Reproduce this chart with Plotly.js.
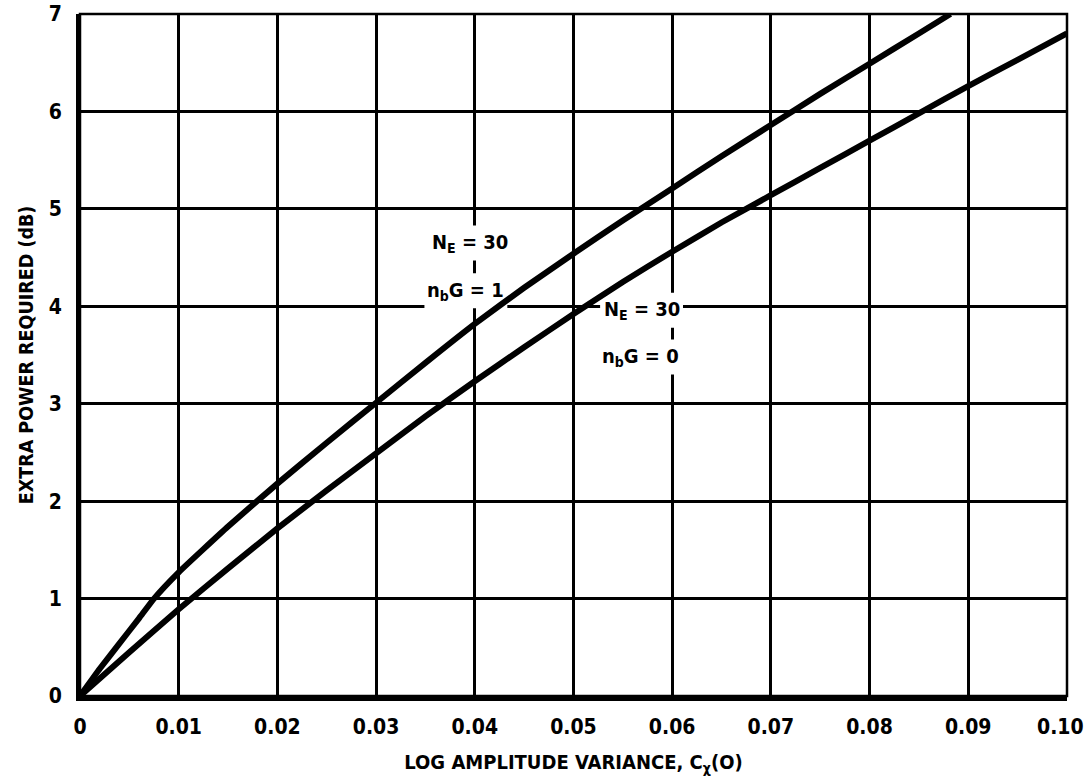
<!DOCTYPE html>
<html>
<head>
<meta charset="utf-8">
<script src="https://cdn.plot.ly/plotly-3.0.1.min.js"></script>
<style>
  html, body { margin: 0; padding: 0; background: #fff; }
  #chart { width: 1085px; height: 784px; }
</style>
</head>
<body>
<div id="chart"></div>
<script>
// Extra power required vs. log amplitude variance, two receiver settings
const varianceA = [0, 0.002, 0.004, 0.006, 0.0075, 0.01, 0.015, 0.02, 0.025, 0.03, 0.035, 0.04,
                   0.045, 0.05, 0.055, 0.06, 0.065, 0.07, 0.075, 0.08, 0.085, 0.0882];
const powerA    = [0, 0.28, 0.54, 0.80, 1.00, 1.27, 1.74, 2.18, 2.60, 3.01, 3.42, 3.82,
                   4.19, 4.54, 4.88, 5.21, 5.54, 5.86, 6.18, 6.49, 6.80, 7.00];   // N_E = 30, n_bG = 1

const varianceB = [0, 0.005, 0.01, 0.015, 0.02, 0.025, 0.03, 0.035, 0.04, 0.045, 0.05,
                   0.055, 0.06, 0.065, 0.07, 0.075, 0.08, 0.085, 0.09, 0.095, 0.10];
const powerB    = [0, 0.45, 0.89, 1.31, 1.72, 2.11, 2.49, 2.87, 3.23, 3.58, 3.92,
                   4.25, 4.56, 4.86, 5.14, 5.42, 5.70, 5.98, 6.26, 6.53, 6.80];   // N_E = 30, n_bG = 0

const xTickVals = [0, 0.01, 0.02, 0.03, 0.04, 0.05, 0.06, 0.07, 0.08, 0.09, 0.10];
const xTickText = ['0', '0.01', '0.02', '0.03', '0.04', '0.05', '0.06', '0.07', '0.08', '0.09', '0.10'];
const yTickVals = [0, 1, 2, 3, 4, 5, 6, 7];
const yTickText = ['0', '1', '2', '3', '4', '5', '6', '7'];

const curveLabels = [
  { x: 0.0395, y: 4.65, text: 'N<sub>E</sub> = 30' },
  { x: 0.0391, y: 4.16, text: 'n<sub>b</sub>G = 1' },
  { x: 0.0569, y: 3.96, text: 'N<sub>E</sub> = 30' },
  { x: 0.0568, y: 3.48, text: 'n<sub>b</sub>G = 0' }
];

const FONT = 'DejaVu Sans Condensed, Liberation Sans Narrow, Arial Narrow, sans-serif';
const TICK_SIZE = 21;

const curveLine = { color: '#000', width: 6, shape: 'spline', smoothing: 0.4 };
const traces = [
  { x: varianceA, y: powerA, mode: 'lines', line: curveLine, hoverinfo: 'skip', showlegend: false },
  { x: varianceB, y: powerB, mode: 'lines', line: curveLine, hoverinfo: 'skip', showlegend: false }
];

// white patches behind the curve labels, above the grid but under the curves
const labelPatches = curveLabels.map(l => ({
  type: 'rect', xref: 'x', yref: 'y', layer: 'between',
  x0: l.x - 0.0042, x1: l.x + 0.0042, y0: l.y - 0.18, y1: l.y + 0.18,
  fillcolor: '#fff', line: { width: 0 }
}));

// the right-most x label sits against the page edge, so it is drawn as a note
// nudged inward instead of as an axis tick label
const nLast = xTickVals.length - 1;
const edgeTickLabel = {
  x: xTickVals[nLast], y: 0, xref: 'x', yref: 'paper',
  text: xTickText[nLast], showarrow: false,
  xanchor: 'center', yanchor: 'middle', xshift: -6, yshift: -31,
  font: { family: FONT, size: TICK_SIZE, weight: 'bold', color: '#000' }
};

const layout = {
  width: 1085, height: 784,
  margin: { l: 80, r: 18, t: 14, b: 88 },
  paper_bgcolor: '#fff', plot_bgcolor: '#fff',
  font: { family: FONT, color: '#000', size: 20, weight: 'bold' },
  xaxis: {
    range: [0, 0.10001], tickvals: xTickVals.slice(0, nLast), ticktext: xTickText.slice(0, nLast),
    tickfont: { family: FONT, size: TICK_SIZE, weight: 'bold' },
    showgrid: true, gridcolor: '#000', gridwidth: 2.5,
    zeroline: false, showline: true, linecolor: '#000', linewidth: 5,
    ticks: '', ticklabelstandoff: 8,
    title: { text: 'LOG AMPLITUDE VARIANCE, C<sub>χ</sub>(O)', font: { family: FONT, size: 20, weight: 'bold' }, standoff: 18 }
  },
  yaxis: {
    range: [0, 7.0001], tickvals: yTickVals, ticktext: yTickText,
    tickfont: { family: FONT, size: TICK_SIZE, weight: 'bold' },
    showgrid: true, gridcolor: '#000', gridwidth: 2.5,
    zeroline: false, showline: true, linecolor: '#000', linewidth: 4,
    ticks: '', ticklabelstandoff: 10,
    title: { text: 'EXTRA POWER REQUIRED (dB)', font: { family: FONT, size: 19.5, weight: 'bold' }, standoff: 11 }
  },
  shapes: labelPatches.concat([
    { type: 'rect', xref: 'paper', yref: 'paper', x0: 0, x1: 1, y0: 0, y1: 1,
      line: { color: '#000', width: 2.5 }, layer: 'above' }
  ]),
  annotations: curveLabels.map(l => ({
    x: l.x, y: l.y, xref: 'x', yref: 'y', text: l.text, showarrow: false,
    font: { family: FONT, size: 20, weight: 'bold', color: '#000' }
  })).concat([edgeTickLabel])
};

Plotly.newPlot('chart', traces, layout, { displayModeBar: false });
</script>
</body>
</html>
